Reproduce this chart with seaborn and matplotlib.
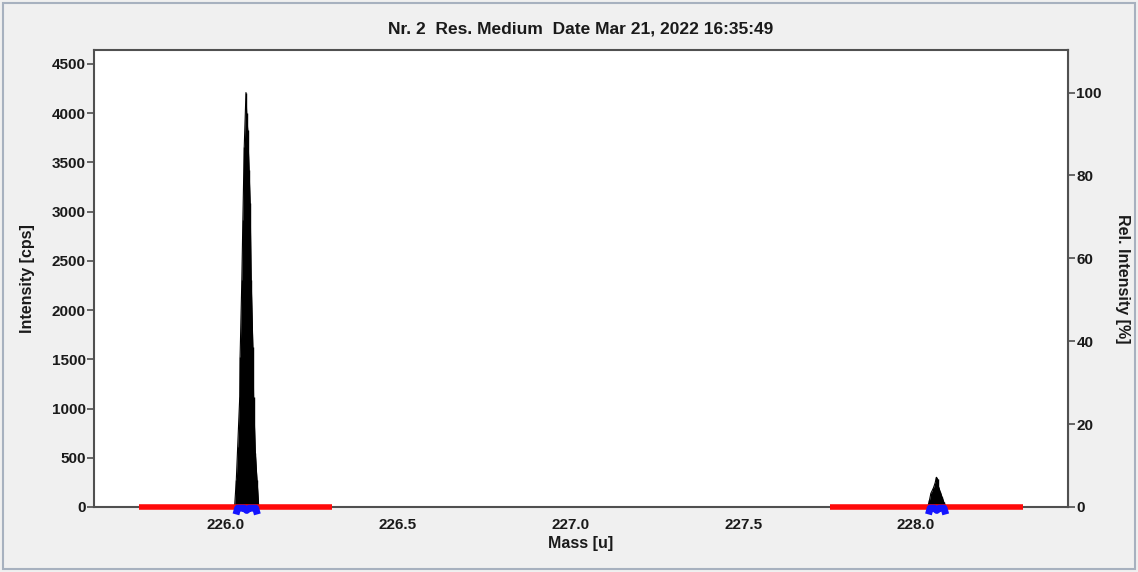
import numpy as np
import pandas as pd
import seaborn as sns
import matplotlib
matplotlib.use("Agg")
import matplotlib.pyplot as plt
from matplotlib.patches import Rectangle

# --- spectrum data -------------------------------------------------------
# main isotope peak profile (mass in u, intensity in cps)
peak1_mass = [226.027, 226.032, 226.036, 226.042, 226.043, 226.048, 226.051,
              226.055, 226.060, 226.062, 226.065, 226.069, 226.072, 226.075,
              226.080, 226.082, 226.087, 226.092, 226.097]
peak1_int = [0, 274, 613, 1121, 1527, 2306, 2915, 3660, 4210, 4000, 3830,
             3423, 3088, 2306, 1628, 1121, 552, 274, 0]

# minor peak profile
peak2_mass = [228.034, 228.039, 228.043, 228.050, 228.055, 228.059, 228.063,
              228.065, 228.070, 228.075, 228.080, 228.087]
peak2_int = [0, 71, 139, 190, 240, 302, 280, 206, 155, 105, 54, 0]

# scan windows (red) and integration windows (blue)
scan_windows = [(225.75, 226.31), (227.75, 228.31)]
integ_windows = [(226.031, 226.062, 226.093), (228.036, 228.060, 228.086)]

x_ticks = [226.0, 226.5, 227.0, 227.5, 228.0]
y_ticks = [0, 500, 1000, 1500, 2000, 2500, 3000, 3500, 4000, 4500]
rel_ticks = [0, 20, 40, 60, 80, 100]

title = "Nr. 2  Res. Medium  Date Mar 21, 2022 16:35:49"

# --- styling ---------------------------------------------------------------
sns.set_theme(style="white")
FONT = ["Liberation Sans Narrow", "Liberation Sans", "DejaVu Sans"]
plt.rcParams["font.family"] = FONT
plt.rcParams["font.weight"] = "bold"
TXT = "#1a1a1a"
BG = "#f0f0f0"
SPINE = "#505050"

fig = plt.figure(figsize=(11.38, 5.72), dpi=100, facecolor=BG)
ax = fig.add_axes([94 / 1138, 1 - 507 / 572, (1068 - 94) / 1138, (507 - 50) / 572])
ax.set_facecolor("white")

# window frame around the chart panel
fig.patches.append(Rectangle((3 / 1138, 3 / 572), 1132 / 1138, 566 / 572,
                             transform=fig.transFigure, fill=False,
                             edgecolor="#a7b1bf", lw=1.5))

# relative intensity scale (created first so the spectrum axes draws on top)
ax2 = ax.twinx()

df = pd.concat([
    pd.DataFrame({"mass": peak1_mass, "intensity": peak1_int, "peak": "p1"}),
    pd.DataFrame({"mass": peak2_mass, "intensity": peak2_int, "peak": "p2"}),
])

# peak profiles as filled stick spectrum
sns.lineplot(data=df, x="mass", y="intensity", units="peak", estimator=None,
             color="black", lw=0.8, ax=ax, zorder=3)
for m, i in [(peak1_mass, peak1_int), (peak2_mass, peak2_int)]:
    ax.fill_between(m, 0, i, color="black", lw=0, zorder=3)
    ax.vlines(m, 0, i, color="black", lw=1, zorder=3)

# scan windows on the baseline
for lo, hi in scan_windows:
    ax.plot([lo, hi], [0, 0], color="#ff0a0a", lw=4, solid_capstyle="butt",
            zorder=4, clip_on=False)

# integration window markers under each peak
for lo, mid, hi in integ_windows:
    xs = [lo, lo + 0.005, mid - 0.007, mid, mid + 0.007, hi - 0.005, hi]
    ys = [-75, -12, -12, -35, -12, -12, -75]
    ax.plot(xs, ys, color="#1414ff", lw=5, solid_joinstyle="round",
            solid_capstyle="butt", zorder=5, clip_on=False)

ymax = 4642
ax.set_xlim(225.62, 228.44)
ax.set_ylim(0, ymax)
ax.set_xticks(x_ticks)
ax.set_xticklabels([f"{v:.1f}" for v in x_ticks])
ax.set_yticks(y_ticks)
ax.set_xlabel("Mass [u]", fontsize=11.5, fontweight="bold", color=TXT, labelpad=3)
ax.set_ylabel("Intensity [cps]", fontsize=11.5, fontweight="bold", color=TXT, labelpad=12)
ax.set_title(title, fontsize=12.5, fontweight="bold", color=TXT, pad=12)

for s in ax.spines.values():
    s.set_color(SPINE)
    s.set_linewidth(1.5)
    s.set_zorder(2)
ax.tick_params(axis="both", direction="out", length=5, width=1.2, color=SPINE,
               labelsize=11, labelcolor=TXT, pad=1)
ax.tick_params(axis="x", pad=3)

# 100 % corresponds to the main peak maximum
ax2.set_ylim(0, ymax / max(peak1_int) * 100)
ax2.set_yticks(rel_ticks)
ax2.set_ylabel("Rel. Intensity [%]", fontsize=11.5, fontweight="bold", color=TXT,
               rotation=270, labelpad=20)
for name, s in ax2.spines.items():
    s.set_visible(name == "right")
    s.set_color(SPINE)
    s.set_linewidth(1.5)
ax2.tick_params(axis="y", direction="out", length=5, width=1.2, color=SPINE,
                labelsize=11, labelcolor=TXT, pad=1)
ax2.set_zorder(0)
ax.set_zorder(1)
ax2.patch.set_visible(False)
for lab in ax.get_xticklabels() + ax.get_yticklabels() + ax2.get_yticklabels():
    lab.set_fontweight("bold")

fig.savefig("out.png", dpi=100, facecolor=BG)
